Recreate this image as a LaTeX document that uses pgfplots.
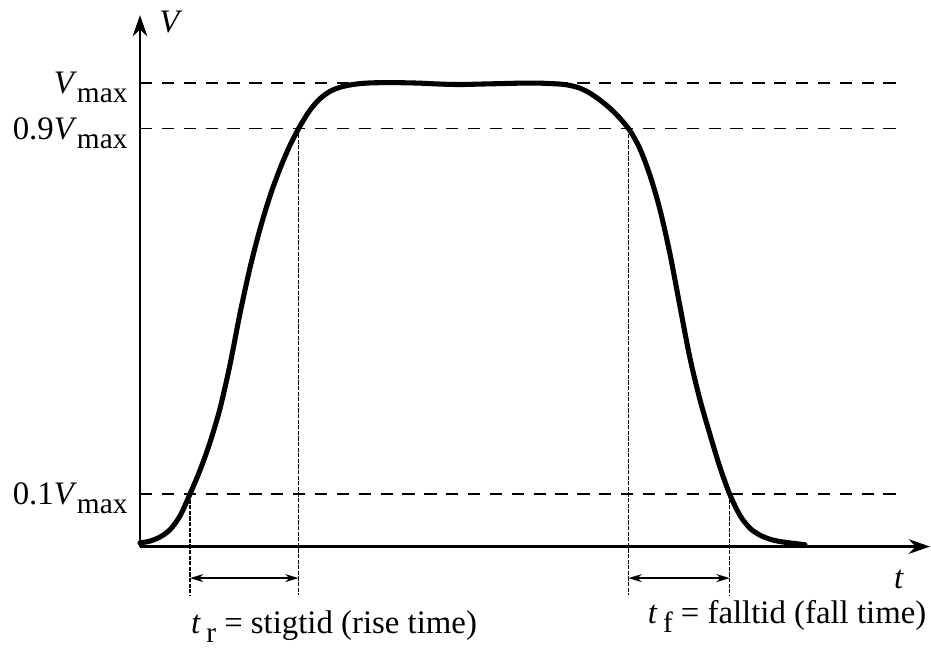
\documentclass[border=0pt]{standalone}
\usepackage{fontspec}
\setmainfont{Liberation Serif}
\usepackage{pgfplots}
\pgfplotsset{compat=1.18}
\usetikzlibrary{arrows.meta}

\newcommand{\sub}[1]{\raisebox{-0.6ex}[0pt][0pt]{\fontsize{11}{12}\selectfont #1}}
\newcommand{\Vmax}{\textit{V}\sub{max}}

\begin{document}
\begin{tikzpicture}[font=\fontsize{12.3}{14}\selectfont]
\begin{axis}[
  x=0.375pt, y=171.375pt,
  xmin=0, xmax=790, ymin=-0.015, ymax=1.148,
  axis lines=left,
  axis line style={line width=0.9pt, -{Stealth[length=8pt,width=5.5pt]}},
  xtick=\empty,
  ytick={0.1,0.9,1},
  yticklabels={0.1\Vmax, 0.9\Vmax, \Vmax},
  major tick length=0pt,
  yticklabel style={anchor=east, inner sep=0pt, xshift=-4.5pt},
  clip=false,
]
% reference levels
\addplot[black, line width=0.6pt, dash pattern=on 4.6pt off 3.6pt] coordinates {(0,1) (757,1)};
\addplot[black, line width=0.6pt, dash pattern=on 4.6pt off 3.6pt] coordinates {(0,0.9) (757,0.9)};
\addplot[black, line width=0.6pt, dash pattern=on 4.6pt off 3.6pt] coordinates {(0,0.1) (757,0.1)};

% crossing markers
\addplot[black, line width=0.4pt, dash pattern=on 1.6pt off 0.5pt] coordinates {(50,0.1) (50,-0.121)};
\addplot[black, line width=0.4pt, dash pattern=on 1.6pt off 0.5pt] coordinates {(158.5,0.9) (158.5,-0.121)};
\addplot[black, line width=0.4pt, dash pattern=on 1.6pt off 0.5pt] coordinates {(488.5,0.9) (488.5,-0.121)};
\addplot[black, line width=0.4pt, dash pattern=on 1.6pt off 0.5pt] coordinates {(589.7,0.1) (589.7,-0.121)};

% rise / fall intervals
\addplot[black, line width=0.6pt, {Stealth[length=5pt,width=3pt]}-{Stealth[length=5pt,width=3pt]}] coordinates {(50,-0.084) (158.5,-0.084)};
\addplot[black, line width=0.6pt, {Stealth[length=5pt,width=3pt]}-{Stealth[length=5pt,width=3pt]}] coordinates {(488.5,-0.084) (589.7,-0.084)};

% pulse
\addplot[black, line width=1.9pt, smooth, tension=0.5, line cap=round] coordinates {
  (0,-0.007) (10,-0.003) (20,0.006) (30,0.022) (40,0.052) (50,0.100)
  (60,0.152) (70,0.213) (80,0.287) (90,0.383) (100,0.495) (110,0.595)
  (120,0.680) (130,0.752) (140,0.812) (150,0.863) (160,0.905)
  (170,0.940) (180,0.965) (190,0.981) (200,0.990) (210,0.995)
  (220,0.998) (230,0.9995) (240,1.000) (260,1.000) (280,0.999)
  (300,0.997) (320,0.996) (340,0.997) (360,0.998) (380,0.999)
  (400,0.999) (410,0.998) (420,0.997) (430,0.994) (440,0.988)
  (450,0.977) (460,0.962) (470,0.944) (480,0.922) (490,0.895)
  (500,0.855) (510,0.797) (520,0.722) (530,0.625) (540,0.510)
  (550,0.397) (560,0.306) (570,0.230) (580,0.158) (590,0.098)
  (600,0.053) (610,0.025) (620,0.010) (630,0.001) (640,-0.004)
  (650,-0.007) (665,-0.011)
};

\node at (axis cs:31,1.133) {\textit{V}};
\node at (axis cs:759,-0.088) {\textit{t}};
\node at (axis cs:194,-0.187) {\textit{t}\,\sub{r} = stigtid (rise time)};
\node at (axis cs:647,-0.165) {\textit{t}\,\sub{f} = falltid (fall time)};

\coordinate (bbSW) at (axis cs:-140,-0.2523);
\coordinate (bbNE) at (axis cs:791,1.181);
\end{axis}
\pgfresetboundingbox
\useasboundingbox (bbSW) rectangle (bbNE);
\end{tikzpicture}
\end{document}
